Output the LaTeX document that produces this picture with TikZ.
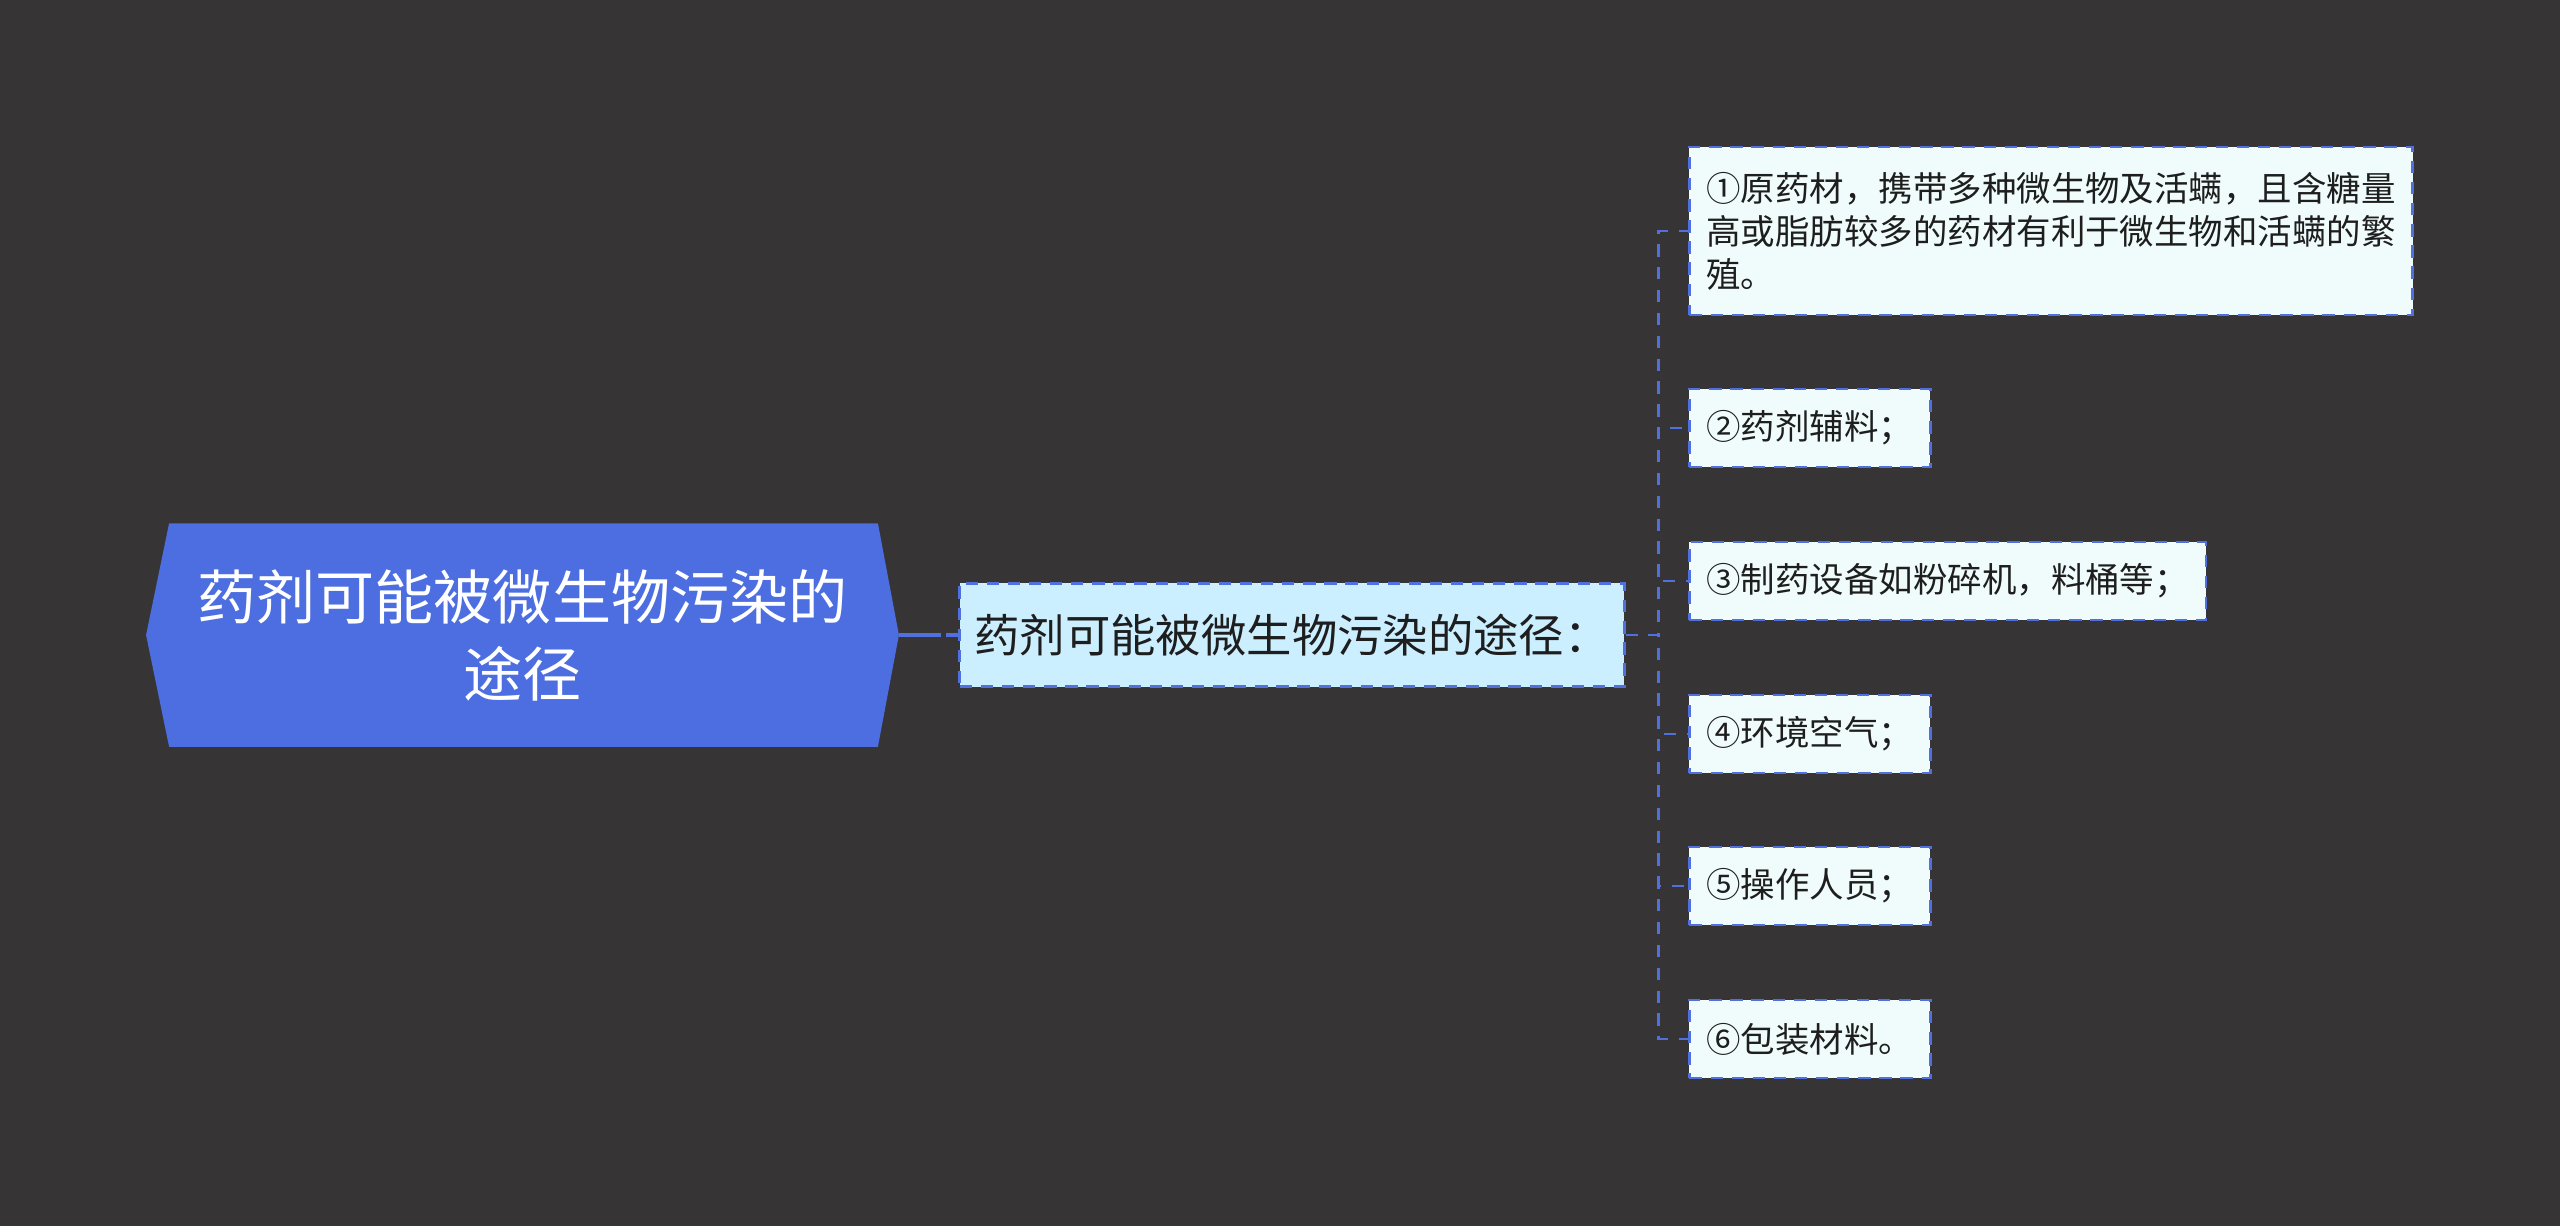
\documentclass[tikz,border=0pt]{standalone}
\usepackage{fontspec}
\setmainfont{Noto Sans CJK SC}
\usetikzlibrary{backgrounds}

\definecolor{bgdark}{RGB}{54,52,53}
\definecolor{rootblue}{RGB}{76,110,224}
\definecolor{lineblue}{RGB}{80,112,222}
\definecolor{subfill}{RGB}{204,239,255}
\definecolor{leaffill}{RGB}{240,252,252}
\definecolor{inkdark}{RGB}{30,30,30}

\tikzset{
    roottext/.style={text=white, font=\fontsize{16.8}{21.9}\selectfont, align=center,
        minimum width=7.51cm, minimum height=2.22cm, inner sep=0pt},
    subbox/.style={draw=lineblue, fill=subfill, line width=0.8pt, dash pattern=on 3.5pt off 2.5pt,
        text=inkdark, font=\fontsize{12.9}{16}\selectfont, minimum width=6.64cm, minimum height=1.03cm},
    leafbox/.style={draw=lineblue, fill=leaffill, line width=0.8pt, dash pattern=on 3.5pt off 2.5pt,
        text=inkdark, font=\fontsize{9.8}{12.2}\selectfont, align=left, anchor=west,
        inner xsep=0.17cm, inner ysep=0pt, minimum height=0.78cm},
    branch/.style={lineblue, line width=0.8pt, dash pattern=on 3.5pt off 3pt}
}

\begin{document}
\begin{tikzpicture}[x=0.01cm, y=-0.01cm]
        % Page
        \useasboundingbox (0,0) rectangle (2560,1226);

        % Central topic
        \node[roottext] (root) at (522.5,635) {药剂可能被微生物污染的\\途径};
        \begin{scope}[on background layer]
            \fill[bgdark] (0,0) rectangle (2560,1226);
            \fill[rootblue] (root.west) -- ([xshift=0.23cm]root.north west) -- ([xshift=-0.21cm]root.north east)
                -- (root.east) -- ([xshift=-0.21cm]root.south east) -- ([xshift=0.23cm]root.south west) -- cycle;
        \end{scope}

        % Sub topic
        \node[subbox] (sub) at (1292,635) {药剂可能被微生物污染的途径：\hspace{0.1cm}};

        % Leaves
        \node[leafbox, minimum height=1.68cm] (leaf1) at (1688,231) {①原药材，携带多种微生物及活螨，且含糖量\\高或脂肪较多的药材有利于微生物和活螨的繁\\殖。};
        \node[leafbox] (leaf2) at (1688,428) {②药剂辅料；};
        \node[leafbox] (leaf3) at (1688,581) {③制药设备如粉碎机，料桶等；};
        \node[leafbox] (leaf4) at (1688,734) {④环境空气；};
        \node[leafbox] (leaf5) at (1688,886) {⑤操作人员；};
        \node[leafbox] (leaf6) at (1688,1039) {⑥包装材料。};

        % Connectors
        \draw[lineblue, line width=1.4pt, dash pattern=on 12pt off 1.5pt] (root.east) -- (sub.west);
        \foreach \i in {1,...,6}
            \draw[branch] (sub.east) -- ++(33,0) |- (leaf\i.west);

    \end{tikzpicture}
\end{document}
